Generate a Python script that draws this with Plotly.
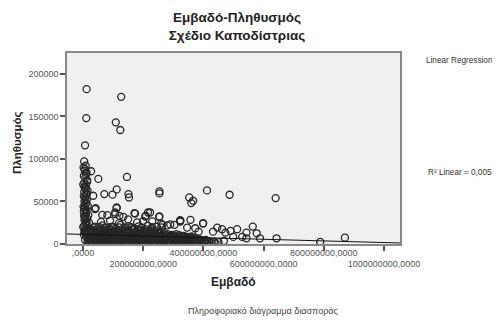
import plotly.graph_objects as go

# ---- data: area in millions (m²), population ----
area_out = [12, 127, 11, 109, 124, 7, 27, 51, 146, 71, 98, 112, 151, 153, 254, 254, 34, 42,
            112, 107, 121, 64, 171, 216, 207, 253, 304, 323, 264, 353, 366, 360, 412, 487,
            640, 399, 564, 577, 588, 643, 529, 543, 499, 462, 473, 432, 468, 323, 346, 373,
            384, 870, 788]
pop_out = [182000, 173000, 148000, 143000, 134000, 116000, 85500, 76500, 78800, 58700, 58000,
           64200, 58700, 54700, 61800, 59500, 56700, 42200, 42200, 37000, 33100, 34300, 36300,
           37000, 32300, 31900, 22500, 26400, 22500, 54700, 50800, 48100, 63000, 57900, 54000,
           24500, 20500, 12600, 6700, 6700, 8300, 6700, 8300, 17400, 13400, 14500, 3500, 27200,
           19300, 18500, 14500, 7400, 2500]

area_col = [4, 9, 6, 12, 3, 8, 14, 5, 10, 7, 15, 4, 11, 8, 13, 5, 9, 16, 6, 12,
            3, 10, 18, 7, 14, 5, 11, 20, 8, 4, 13, 9, 16, 6, 12, 3, 10, 18, 7]
pop_col = [97000, 92000, 88000, 84000, 80000, 78000, 75000, 72000, 69000, 66000,
           63000, 61000, 58000, 55000, 52000, 50000, 47000, 45000, 43000, 40000,
           38000, 36000, 34000, 32000, 30000, 28000, 26000, 25000, 23000, 21000,
           19000, 17000, 15000, 14000, 12000, 11000, 9000, 7000, 5000]

area_col2 = [2, 6, 10, 14, 1, 5, 9, 13, 3, 7, 11, 2, 6, 10, 4, 8, 12, 1, 5, 9]
pop_col2 = [90000, 86000, 82000, 73000, 70000, 67000, 64000, 59000, 56000, 53000,
            48000, 44000, 41000, 37000, 33000, 29000, 24000, 20000, 16000, 13000]

area_mid = [40, 81, 107, 134, 112, 173, 209, 223, 254, 323, 357, 399, 446, 490, 512, 543,
            60, 90, 120, 150, 180, 200, 230, 260, 290]
pop_mid = [41000, 33900, 35100, 31900, 42900, 35800, 33100, 37000, 32300, 28000, 28400,
           24000, 19300, 15400, 17400, 13400, 26000, 27500, 24500, 29000, 25500, 27000,
           26500, 24000, 23000]

area_r1 = [20, 35, 50, 65, 80, 95, 110, 125, 140, 155, 170, 185, 200, 215, 230, 245, 260,
           275, 290, 305, 320, 335, 350, 365, 380, 395, 410, 425, 440]
pop_r1 = [900, 1400, 600, 1700, 1100, 500, 1300, 800, 1600, 1000, 700, 1500, 1200, 600, 1800,
          900, 1300, 700, 1100, 1600, 800, 1200, 500, 1400, 1000, 1700, 600, 1300, 900]
area_r2 = [28, 43, 58, 73, 88, 103, 118, 133, 148, 163, 178, 193, 208, 223, 238, 253, 268,
           283, 298, 313, 328, 343, 358, 373, 388, 403, 418]
pop_r2 = [3200, 3900, 2800, 3600, 4200, 3000, 3700, 2600, 4000, 3400, 3100, 3800, 2900, 4300,
          3500, 2700, 3900, 3300, 4100, 3000, 3600, 2800, 3700, 3200, 4000, 2900, 3400]
area_r3 = [22, 37, 52, 67, 82, 97, 112, 127, 142, 157, 172, 187, 202, 217, 232, 247, 262,
           277, 292, 307, 322, 337, 352, 367, 382]
pop_r3 = [5800, 6400, 5500, 6900, 6100, 5300, 6600, 5900, 6300, 5600, 7000, 6000, 5400, 6700,
          5700, 6200, 5500, 6800, 6000, 5300, 6500, 5800, 6100, 5600, 6300]
area_r4 = [30, 45, 60, 75, 90, 105, 120, 135, 150, 165, 180, 195, 210, 225, 240, 255, 270,
           285, 300, 315, 330, 345, 360]
pop_r4 = [8300, 9000, 8000, 8700, 9300, 8200, 8800, 7900, 9100, 8500, 8100, 8900, 8400, 9200,
          7800, 8600, 9000, 8200, 8700, 8000, 9100, 8400, 8800]
area_r5 = [25, 40, 55, 70, 85, 100, 115, 130, 145, 160, 175, 190, 205, 220, 235, 250, 265,
           280, 295, 310]
pop_r5 = [11200, 12000, 10800, 11700, 12300, 11000, 11900, 11400, 12200, 10700, 11600, 12400,
          11100, 11800, 10900, 12100, 11300, 11700, 10800, 11500]
area_r6 = [33, 50, 67, 84, 101, 118, 135, 152, 169, 186, 203, 220, 237, 254]
pop_r6 = [14200, 15100, 13800, 14800, 15300, 14000, 14600, 15000, 13700, 14900, 14300, 15200,
          13900, 14500]
area_r7 = [28, 48, 68, 88, 108, 128, 148, 168, 188, 208, 228]
pop_r7 = [17200, 18100, 16900, 17800, 18400, 17000, 17600, 18200, 16800, 17400, 17900]
area_r8 = [40, 65, 95, 125, 150, 185, 215, 245, 280]
pop_r8 = [20500, 21800, 20200, 22400, 21000, 20800, 21500, 20300, 22000]
area_r9 = [15, 30, 45, 60, 75, 90, 105, 120, 135, 150, 165, 180, 195, 210, 225, 240, 255,
           270, 285, 300, 315, 330, 345, 360, 375, 390, 405, 420, 435, 450]
pop_r9 = [2100, 2500, 1900, 2400, 2200, 2000, 2600, 2300, 1800, 2500, 2200, 1900, 2400, 2100,
          2600, 2000, 2300, 1900, 2500, 2200, 2400, 2000, 2100, 2600, 1900, 2300, 2200, 2000,
          2500, 2100]
area_r10 = [18, 33, 48, 63, 78, 93, 108, 123, 138, 153, 168, 183, 198, 213, 228, 243, 258,
            273, 288, 303, 318, 333, 348, 363, 378, 393, 408]
pop_r10 = [4700, 5100, 4500, 4900, 5200, 4600, 5000, 4400, 4800, 5100, 4700, 4500, 5000, 4900,
           4600, 5200, 4400, 4800, 5100, 4700, 4500, 5000, 4900, 4600, 5100, 4800, 4700]
area_r11 = [25, 40, 55, 70, 85, 100, 115, 130, 145, 160, 175, 190, 205, 220, 235, 250, 265,
            280, 295, 310, 325, 340, 355, 370]
pop_r11 = [7200, 7600, 7000, 7400, 7700, 7100, 7500, 6900, 7300, 7800, 7000, 7400, 7600, 7200,
           7100, 7500, 6900, 7300, 7700, 7000, 7400, 7200, 7600, 7100]
area_r12 = [20, 35, 50, 65, 80, 95, 110, 125, 140, 155, 170, 185, 200, 215, 230, 245, 260,
            275, 290, 305, 320, 335]
pop_r12 = [9800, 10300, 9600, 10100, 10500, 9900, 10200, 9700, 10400, 10000, 9600, 10300,
           9800, 10100, 9900, 10400, 9700, 10200, 10000, 9800, 10300, 9600]
area_r13 = [30, 45, 60, 75, 90, 105, 120, 135, 150, 165, 180, 195, 210, 225, 240, 255, 270]
pop_r13 = [12800, 13300, 12600, 13100, 13500, 12900, 13200, 12700, 13400, 13000, 12600, 13300,
           12800, 13100, 12900, 13200, 12700]
area_r14 = [22, 40, 58, 76, 94, 112, 130, 148, 166, 184, 202, 220, 238]
pop_r14 = [15800, 16300, 15600, 16100, 16500, 15900, 16200, 15700, 16400, 16000, 15600, 16300,
           15800]
area_r15 = [35, 55, 75, 100, 120, 140, 160, 195, 230, 260]
pop_r15 = [19300, 19800, 19100, 20000, 19500, 19200, 19700, 19400, 19900, 19600]

# fitted regression line end points
reg_area = [-53, 1053]
reg_pop = [11800, 1200]

x_tickvals = [0, 200, 400, 600, 800, 1000]
x_ticktext = [",0000", "<br>200000000,0000", "400000000,0000", "<br>600000000,0000",
              "800000000,0000", "<br>1000000000,0000"]
y_tickvals = [0, 50000, 100000, 150000, 200000]
y_ticktext = ["0", "50000", "100000", "150000", "200000"]

area = (area_r1 + area_r2 + area_r3 + area_r4 + area_r5 + area_r6 + area_r7 + area_r8
        + area_r9 + area_r10 + area_r11 + area_r12 + area_r13 + area_r14 + area_r15
        + area_mid + area_col + area_col2 + area_out)
pop = (pop_r1 + pop_r2 + pop_r3 + pop_r4 + pop_r5 + pop_r6 + pop_r7 + pop_r8
       + pop_r9 + pop_r10 + pop_r11 + pop_r12 + pop_r13 + pop_r14 + pop_r15
       + pop_mid + pop_col + pop_col2 + pop_out)

FONT = "Liberation Sans, Arial, sans-serif"
OFF = 8  # page body margin
FW, FH = 500 - OFF, 320 - OFF
# plot area in screen pixels
L, R, T, B = 67, 400, 53, 244
W, H = R - L, B - T


def px(xp, yp):
    return (xp - L) / W, (B - yp) / H


fig = go.Figure()
fig.add_trace(go.Scatter(
    x=area, y=pop, mode="markers",
    marker=dict(symbol="circle-open", size=7, color="#262626", line=dict(width=1.3)),
    showlegend=False, hoverinfo="skip"))
fig.add_trace(go.Scatter(
    x=reg_area, y=reg_pop, mode="lines",
    line=dict(color="#111", width=1), showlegend=False, hoverinfo="skip"))

annots = []
def add_text(text, xp, yp, size, color, bold=False, xanchor="center", angle=0):
    xx, yy = px(xp, yp)
    annots.append(dict(text=text, x=xx, y=yy, xref="paper", yref="paper",
                       xanchor=xanchor, yanchor="middle", showarrow=False, textangle=angle,
                       font=dict(family=FONT, size=size, color=color,
                                 weight="bold" if bold else "normal")))

add_text("Εμβαδό", 233, 282, 12, "#222", bold=True)
add_text("Πληθυσμός", 17, 143, 11.5, "#222", bold=True, angle=-90)
add_text("Πληροφοριακό διάγραμμα διασποράς", 263, 311, 9, "#444")
add_text("Linear Regression", 424, 60, 8.2, "#333", xanchor="left")
add_text("R² Linear = 0,005", 426, 172, 8.2, "#333", xanchor="left")

fig.update_layout(
    width=FW, height=FH,
    margin=dict(l=L - OFF, r=FW - (R - OFF), t=T - OFF, b=FH - (B - OFF), autoexpand=False),
    paper_bgcolor="white", plot_bgcolor="#f0f0f0",
    font=dict(family=FONT, size=9, color="#555"),
    title=dict(text="Εμβαδό-Πληθυσμός<br>Σχέδιο Καποδίστριας",
               x=(237 - OFF) / FW, xanchor="center", y=1 - 14.4 / FH, yanchor="top",
               font=dict(family=FONT, size=13.5, color="#222", weight="bold")),
    xaxis=dict(range=[-53, 1053], tickvals=x_tickvals, ticktext=x_ticktext, tickangle=0,
               ticks="outside", ticklen=5, tickcolor="#555", tickwidth=1.5,
               ticklabelstandoff=-6,
               showgrid=False, zeroline=False, showline=True, mirror=True,
               linecolor="#888", linewidth=1.5, automargin=False,
               tickfont=dict(size=9, color="#555")),
    yaxis=dict(range=[0, 224500], tickvals=y_tickvals, ticktext=y_ticktext,
               ticks="outside", ticklen=5, tickcolor="#555", tickwidth=1.5,
               showgrid=False, zeroline=False, showline=True, mirror=True,
               linecolor="#888", linewidth=1.5, automargin=False,
               tickfont=dict(size=9, color="#555")),
    annotations=annots,
)

fig.write_html("out.html")
